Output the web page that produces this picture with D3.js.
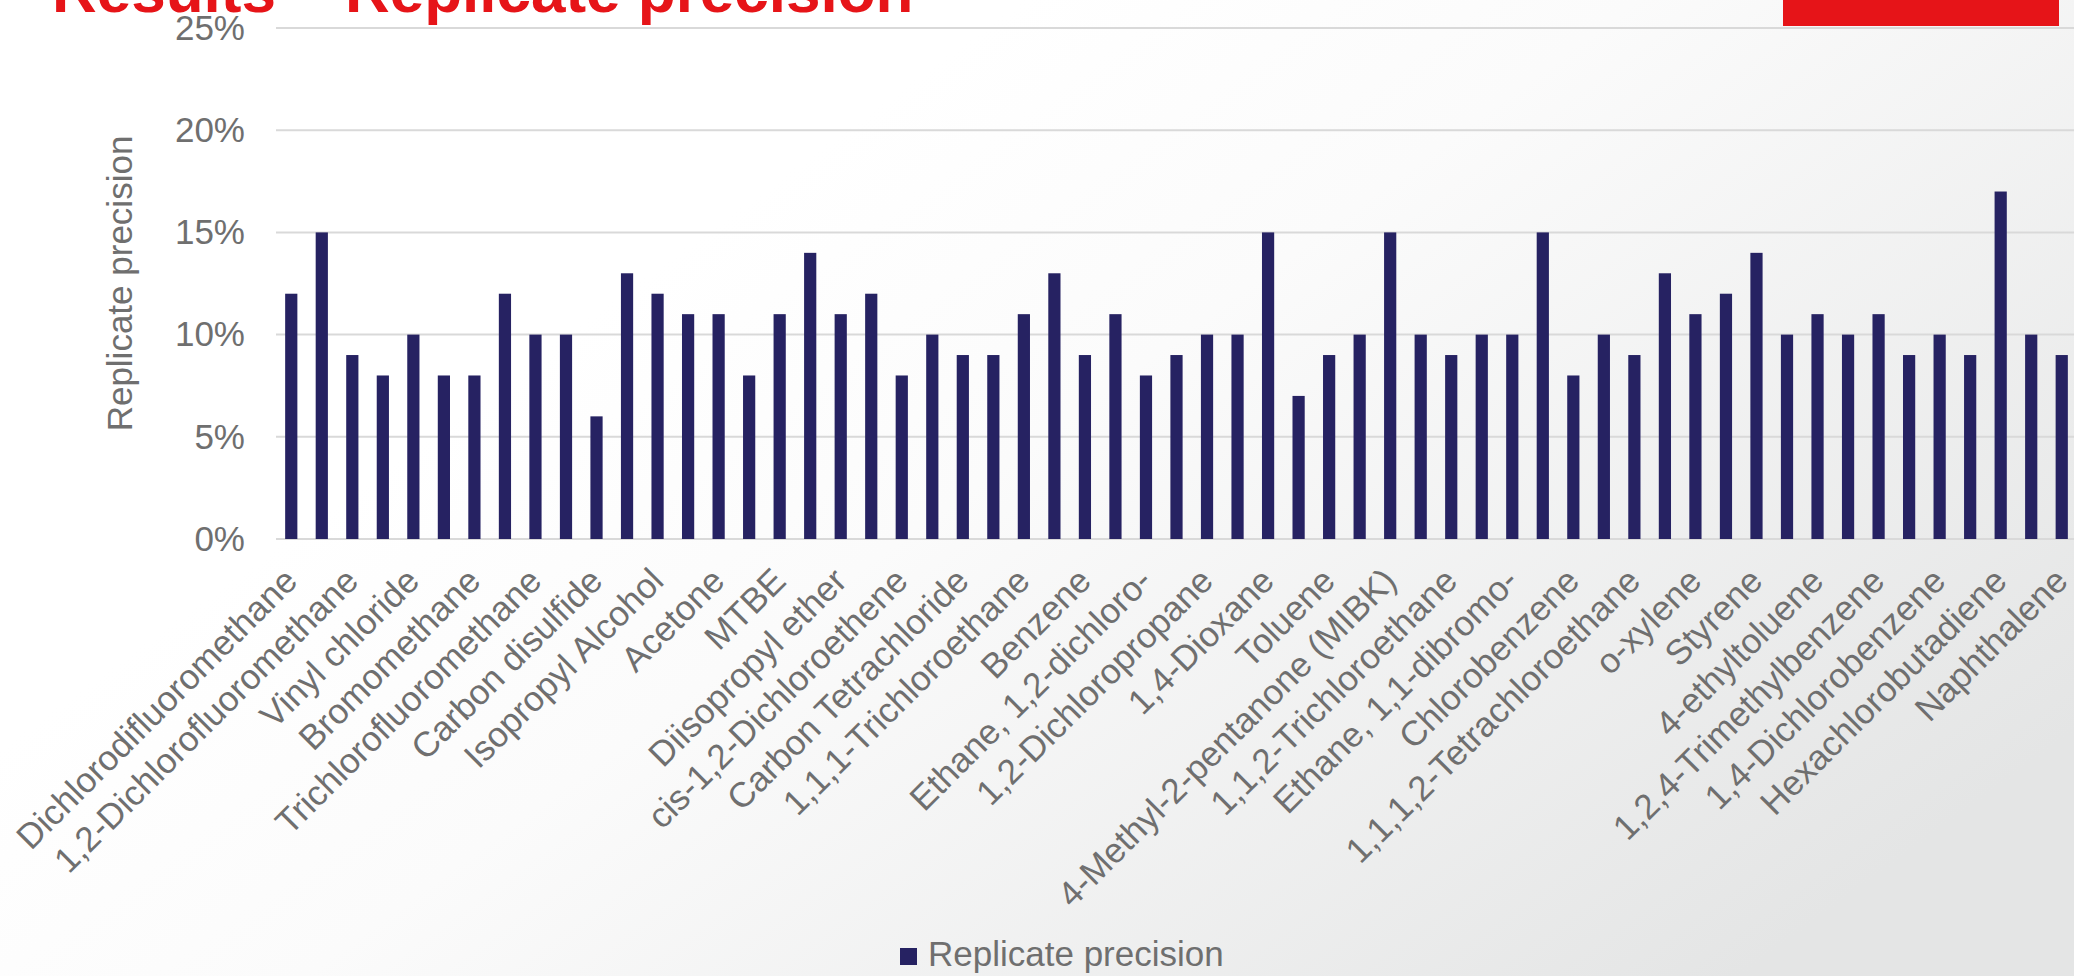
<!DOCTYPE html>
<html>
  <head>
    <meta charset="utf-8">
    <style>
      html, body { margin: 0; padding: 0; overflow: hidden; }
      body { width: 2074px; height: 976px; }
      text { font-family: "Liberation Sans", Arial, sans-serif; }
    </style>
  </head>
  <body>
    <script src="https://cdn.jsdelivr.net/npm/d3@7/dist/d3.min.js"></script>
    <script>
    // only every second category carries a visible label in the original chart
    var labels = ["Dichlorodifluoromethane", "1,2-Dichlorofluoromethane", "Vinyl chloride",
      "Bromomethane", "Trichlorofluoromethane", "Carbon disulfide", "Isopropyl Alcohol",
      "Acetone", "MTBE", "Diisopropyl ether", "cis-1,2-Dichloroethene", "Carbon Tetrachloride",
      "1,1,1-Trichloroethane", "Benzene", "Ethane, 1,2-dichloro-", "1,2-Dichloropropane",
      "1,4-Dioxane", "Toluene", "4-Methyl-2-pentanone (MIBK)", "1,1,2-Trichloroethane",
      "Ethane, 1,1-dibromo-", "Chlorobenzene", "1,1,1,2-Tetrachloroethane", "o-xylene",
      "Styrene", "4-ethyltoluene", "1,2,4-Trimethylbenzene", "1,4-Dichlorobenzene",
      "Hexachlorobutadiene", "Naphthalene"];

    // replicate precision, % (59 compounds)
    var values = [12, 15, 9, 8, 10, 8, 8, 12, 10, 10,
                  6, 13, 12, 11, 11, 8, 11, 14, 11, 12,
                  8, 10, 9, 9, 11, 13, 9, 11, 8, 9,
                  10, 10, 15, 7, 9, 10, 15, 10, 9, 10,
                  10, 15, 8, 10, 9, 13, 11, 12, 14, 10,
                  11, 10, 11, 9, 10, 9, 17, 10, 9];

    var yTicks = [0, 0.05, 0.10, 0.15, 0.20, 0.25];

    var W = 2074, H = 976;
    var plot = { left: 276, right: 2077, top: 28, bottom: 539 };
    var barColor = "#262262", textColor = "#6f6f6f", red = "#e61418";

    var svg = d3.select("body").append("svg")
        .attr("width", W)
        .attr("height", H);

    var defs = svg.append("defs");
    var grad = defs.append("linearGradient")
        .attr("id", "bg")
        .attr("x1", "0.3").attr("y1", "0.3")
        .attr("x2", "1").attr("y2", "0.75");
    grad.append("stop").attr("offset", "0").attr("stop-color", "#ffffff");
    grad.append("stop").attr("offset", "0.3").attr("stop-color", "#fbfbfb");
    grad.append("stop").attr("offset", "1").attr("stop-color", "#e4e5e5");

    svg.append("rect")
        .attr("width", W).attr("height", H)
        .attr("fill", "url(#bg)");

    // slide header bits
    svg.append("rect")
        .attr("x", 1783).attr("y", 0)
        .attr("width", 276).attr("height", 26)
        .attr("fill", red);

    svg.append("text")
        .attr("x", 52).attr("y", 12)
        .attr("fill", red)
        .style("font-size", "62px")
        .style("font-weight", "bold")
        .text("Results \u2013 Replicate precision");

    var x = d3.scaleBand()
        .domain(d3.range(values.length))
        .range([plot.left, plot.right])
        .paddingInner(0.6)
        .paddingOuter(0.3);

    var y = d3.scaleLinear()
        .domain([0, 0.25])
        .range([plot.bottom, plot.top]);

    // gridlines
    svg.append("g")
      .selectAll("line")
      .data(yTicks)
      .enter().append("line")
        .attr("x1", plot.left)
        .attr("x2", W)
        .attr("y1", function (d) { return y(d); })
        .attr("y2", function (d) { return y(d); })
        .attr("stroke", "#d9d9d9")
        .attr("stroke-width", 2);

    var yAxis = svg.append("g")
        .attr("transform", "translate(" + (plot.left - 31) + ",0)")
        .call(d3.axisLeft(y).tickValues(yTicks).tickFormat(d3.format(".0%")).tickSize(0).tickPadding(0));
    yAxis.select(".domain").remove();
    yAxis.selectAll("text")
        .attr("fill", textColor)
        .style("font-size", "35px")
        .style("font-family", "'Liberation Sans', Arial, sans-serif");

    svg.append("g")
      .selectAll("rect")
      .data(values)
      .enter().append("rect")
        .attr("x", function (d, i) { return x(i); })
        .attr("width", x.bandwidth())
        .attr("y", function (d) { return y(d / 100); })
        .attr("height", function (d) { return y(0) - y(d / 100); })
        .attr("fill", barColor);

    // category labels, rotated
    var xAxis = svg.append("g")
        .attr("transform", "translate(0," + plot.bottom + ")")
        .call(d3.axisBottom(x)
          .tickSize(0)
          .tickFormat(function (i) { return i % 2 === 0 ? labels[i / 2] : ""; }));
    xAxis.select(".domain").remove();
    xAxis.selectAll("text")
        .attr("fill", textColor)
        .style("font-size", "35px")
        .style("font-family", "'Liberation Sans', Arial, sans-serif")
        .attr("text-anchor", "end")
        .attr("dy", null)
        .attr("y", 0)
        .attr("transform", "translate(8,44) rotate(-45)");

    // axis title
    svg.append("text")
        .attr("transform", "translate(132," + ((plot.top + plot.bottom) / 2) + ") rotate(-90)")
        .attr("text-anchor", "middle")
        .attr("fill", textColor)
        .style("font-size", "35px")
        .text("Replicate precision");

    // legend
    var legend = svg.append("g").attr("transform", "translate(900,966)");
    legend.append("rect")
        .attr("x", 0).attr("y", -18)
        .attr("width", 17).attr("height", 17)
        .attr("fill", barColor);
    legend.append("text")
        .attr("x", 28).attr("y", 0)
        .attr("fill", textColor)
        .style("font-size", "35px")
        .text("Replicate precision");
    </script>
  </body>
</html>
